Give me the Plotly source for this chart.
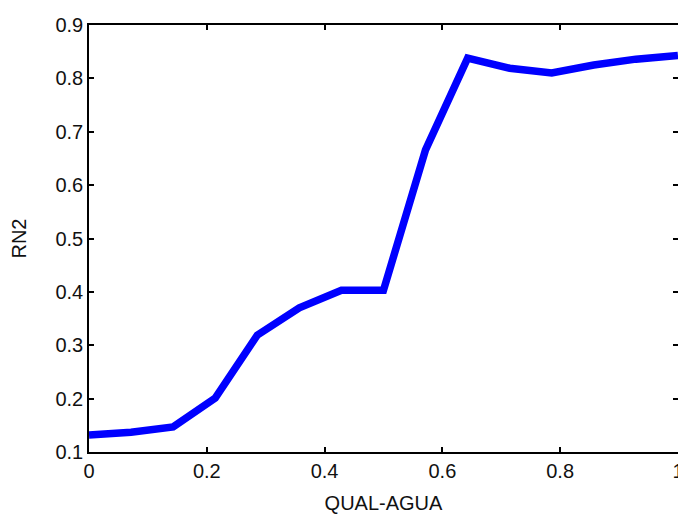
import plotly.graph_objects as go

# Sampled RN2 response against water quality
qual_agua = [0.0, 0.0714, 0.1429, 0.2143, 0.2857, 0.3571, 0.4286, 0.5,
             0.5714, 0.6429, 0.7143, 0.7857, 0.8571, 0.9286, 1.0]
rn2 = [0.132, 0.137, 0.147, 0.201, 0.319, 0.370, 0.403, 0.403,
       0.666, 0.838, 0.819, 0.810, 0.825, 0.836, 0.843]

x_ticks = [0, 0.2, 0.4, 0.6, 0.8, 1]
x_tick_text = ["0", "0.2", "0.4", "0.6", "0.8", "1"]
y_ticks = [0.1, 0.2, 0.3, 0.4, 0.5, 0.6, 0.7, 0.8, 0.9]
y_tick_text = ["0.1", "0.2", "0.3", "0.4", "0.5", "0.6", "0.7", "0.8", "0.9"]

font = dict(family="Liberation Sans, Arial, sans-serif", size=20, color="#111111")

fig = go.Figure(
    go.Scatter(
        x=qual_agua,
        y=rn2,
        mode="lines",
        line=dict(color="#0000FF", width=7.5),
        cliponaxis=False,
    )
)

axis_common = dict(
    showline=True,
    linecolor="black",
    linewidth=1.5,
    mirror="ticks",
    ticks="inside",
    ticklen=5,
    tickwidth=1.5,
    tickcolor="black",
    showgrid=False,
    zeroline=False,
    tickfont=font,
    ticklabeloverflow="allow",
    automargin=False,
)

fig.update_layout(
    width=678,
    height=514,
    margin=dict(l=89, r=0, t=25, b=62, autoexpand=False),
    paper_bgcolor="white",
    plot_bgcolor="white",
    showlegend=False,
    font=font,
    xaxis=dict(
        range=[0, 1.0001],
        tickvals=x_ticks,
        ticktext=x_tick_text,
        title=dict(text="QUAL-AGUA", font=font, standoff=17),
        **axis_common,
    ),
    yaxis=dict(
        range=[0.1, 0.9],
        tickvals=y_ticks,
        ticktext=y_tick_text,
        title=dict(text="RN2", font=font, standoff=23),
        **axis_common,
    ),
)

fig.write_html("out.html")
